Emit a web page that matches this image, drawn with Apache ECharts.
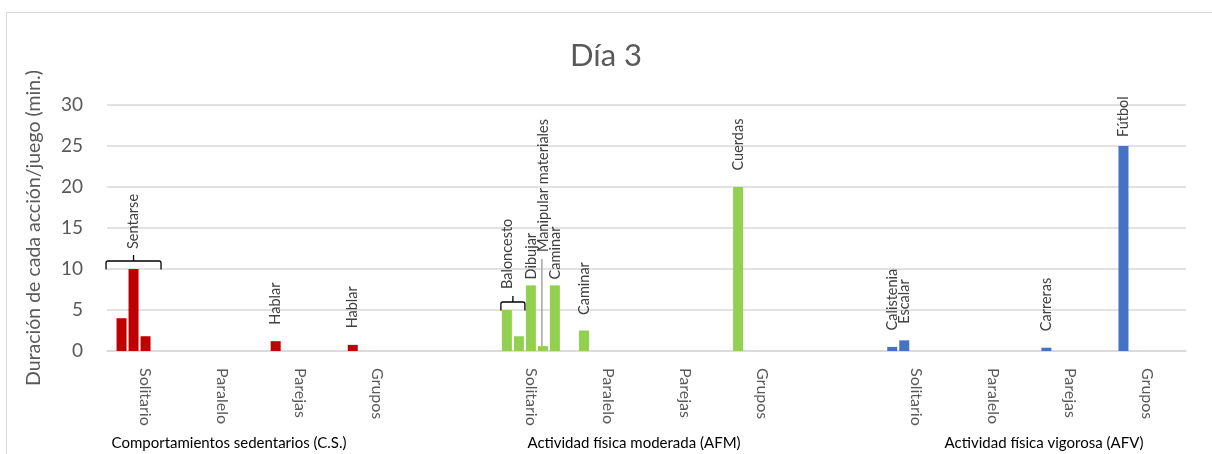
<!DOCTYPE html>
<html>
<head>
<meta charset="utf-8">
<script src="https://cdn.jsdelivr.net/npm/echarts@6/dist/echarts.min.js"></script>
<style>
  html, body { margin: 0; padding: 0; background: #ffffff; }
  #chart { width: 1212px; height: 454px; }
</style>
</head>
<body>
<div id="chart"></div>
<script>
// Sub-categories of each activity block; the empty entries separate the blocks.
const categories = [
  'Solitario', 'Paralelo', 'Parejas', 'Grupos', '',
  'Solitario', 'Paralelo', 'Parejas', 'Grupos', '',
  'Solitario', 'Paralelo', 'Parejas', 'Grupos'
];
const groupNames = [
  'Comportamientos sedentarios (C.S.)',
  'Actividad física moderada (AFM)',
  'Actividad física vigorosa (AFV)'
];

// Minutes per action/game, one array per bar slot inside a category.
const slot1 = [4, null, 1.2, 0.75, null, 5, 2.5, null, 20, null, 0.5, null, 0.4, 25];
const slot2 = [10, null, null, null, null, 1.8, null, null, null, null, 1.3, null, null, null];
const slot3 = [1.8, null, null, null, null, 8, null, null, null, null, null, null, null, null];
const slot4 = [null, null, null, null, null, 0.6, null, null, null, null, null, null, null, null];
const slot5 = [null, null, null, null, null, 8, null, null, null, null, null, null, null, null];

// Activity names written above the bars.
const names1 = ['', '', 'Hablar', 'Hablar', '', 'Baloncesto', 'Caminar', '', 'Cuerdas', '', 'Calistenia', '', 'Carreras', 'Fútbol'];
const names2 = ['Sentarse', '', '', '', '', '', '', '', '', '', 'Escalar', '', '', ''];
const names3 = ['', '', '', '', '', 'Dibujar', '', '', '', '', '', '', '', ''];
const names4 = ['', '', '', '', '', 'Manipular materiales', '', '', '', '', '', '', '', ''];
const names5 = ['', '', '', '', '', 'Caminar', '', '', '', '', '', '', '', ''];

// Braces grouping several bars under one activity name: category and slot range.
const braceCats = [0, 5];
const braceFirst = [0, 0];
const braceLast = [2, 1];
// Leader line for the label lifted far above its short bar.
const leaderCats = [5];
const leaderSlots = [3];

const slots = [slot1, slot2, slot3, slot4, slot5];
const names = [names1, names2, names3, names4, names5];

// ---- styling ----
const FONT = 'Lato, "Open Sans", sans-serif';
const BAR_W = 10;
const BAR_GAP = 2;
const blockColors = ['#C00000', '#92D050', '#4472C4'];
const bracePad = [10.5, 1];
const labelDistance = { '1-0': 20, '0-5': 21, '2-5': 6, '4-5': 6, '3-5': 94, '0-13': 9, '0-6': 15.5 };
const DEFAULT_DIST = 16.5;

function slotOffset(i) {
  const n = slots.length;
  return (i - (n - 1) / 2) * (BAR_W + BAR_GAP);
}

const barSeries = slots.map((arr, s) => ({
  type: 'bar',
  barWidth: BAR_W,
  barGap: (BAR_GAP / BAR_W * 100) + '%',
  data: arr.map((v, i) => {
    if (v === null) return '-';
    return {
      value: v,
      itemStyle: { color: blockColors[Math.floor(i / 5)] },
      label: { distance: labelDistance[s + '-' + i] !== undefined ? labelDistance[s + '-' + i] : DEFAULT_DIST }
    };
  }),
  label: {
    show: true,
    position: 'top',
    rotate: 90,
    align: 'left',
    verticalAlign: 'middle',
    fontFamily: FONT,
    fontSize: 14.5,
    color: '#404040',
    formatter: p => names[s][p.dataIndex] || ''
  },
  silent: true
}));

const braceData = braceCats.map((c, k) => {
  let top = 0;
  for (let s = braceFirst[k]; s <= braceLast[k]; s++) {
    if (slots[s][c] !== null) top = Math.max(top, slots[s][c]);
  }
  return [c, top, braceFirst[k], braceLast[k]];
});

const leaderData = leaderCats.map((c, k) => [c, slots[leaderSlots[k]][c], leaderSlots[k]]);

const braceSeries = {
  type: 'custom',
  silent: true,
  z: 5,
  encode: { x: 0, y: 1 },
  data: braceData,
  renderItem: (params, api) => {
    const p = api.coord([api.value(0), api.value(1)]);
    const pad = bracePad[params.dataIndex];
    const x1 = p[0] + slotOffset(api.value(2)) - BAR_W / 2 - pad;
    const x2 = p[0] + slotOffset(api.value(3)) + BAR_W / 2 + pad;
    const yb = p[1] + 0.5;
    const yh = p[1] - 8;
    const xm = (x1 + x2) / 2;
    const st = { stroke: '#000000', lineWidth: 1.3, fill: null };
    return {
      type: 'group',
      children: [
        { type: 'path', shape: { pathData:
          'M' + x1 + ' ' + yb + ' L' + x1 + ' ' + (yh + 2) + ' Q' + x1 + ' ' + yh + ' ' + (x1 + 2) + ' ' + yh +
          ' L' + (x2 - 2) + ' ' + yh + ' Q' + x2 + ' ' + yh + ' ' + x2 + ' ' + (yh + 2) + ' L' + x2 + ' ' + yb }, style: st },
        { type: 'line', shape: { x1: xm, y1: yh, x2: xm, y2: yh - 6 }, style: st }
      ]
    };
  }
};

const leaderSeries = {
  type: 'custom',
  silent: true,
  z: 5,
  encode: { x: 0, y: 1 },
  data: leaderData,
  renderItem: (params, api) => {
    const p = api.coord([api.value(0), api.value(1)]);
    const x = p[0] + slotOffset(api.value(2)) - 1;
    const key = api.value(2) + '-' + api.value(0);
    const d = labelDistance[key];
    return {
      type: 'line',
      shape: { x1: x, y1: p[1], x2: x, y2: p[1] - d + 7 },
      style: { stroke: '#A6A6A6', lineWidth: 1.5 }
    };
  }
};

const chart = echarts.init(document.getElementById('chart'), null, { renderer: 'canvas' });
chart.setOption({
  animation: false,
  backgroundColor: '#ffffff',
  title: {
    text: 'Día 3',
    left: 'center',
    top: 35,
    textStyle: { fontFamily: FONT, fontSize: 31, fontWeight: 'normal', color: '#595959' }
  },
  grid: { left: 107, right: 26, top: 105, bottom: 103, containLabel: false },
  xAxis: {
    type: 'category',
    data: categories,
    axisLine: { lineStyle: { color: '#D9D9D9', width: 1.5 } },
    axisTick: { show: false },
    axisLabel: {
      interval: 0,
      rotate: -90,
      margin: 17,
      fontFamily: FONT,
      fontSize: 16,
      color: '#595959'
    }
  },
  yAxis: {
    type: 'value',
    min: 0,
    max: 30,
    interval: 5,
    name: 'Duración de cada acción/juego (min.)',
    nameLocation: 'middle',
    nameRotate: 90,
    nameGap: 63,
    nameTextStyle: { fontFamily: FONT, fontSize: 19.5, color: '#595959' },
    axisLine: { show: false },
    axisTick: { show: false },
    axisLabel: { margin: 24, fontFamily: FONT, fontSize: 19, color: '#595959' },
    splitLine: { lineStyle: { color: '#D9D9D9', width: 1.5 } }
  },
  graphic: [
    {
      type: 'rect',
      shape: { x: 6.5, y: 12.5, width: 1400, height: 600 },
      style: { fill: null, stroke: '#D9D9D9', lineWidth: 1 },
      silent: true
    },
    { type: 'text', x: 229, y: 443, style: { text: groupNames[0], fontFamily: FONT, fontSize: 15, fill: '#000000', align: 'center', verticalAlign: 'middle' } },
    { type: 'text', x: 634, y: 443, style: { text: groupNames[1], fontFamily: FONT, fontSize: 15, fill: '#000000', align: 'center', verticalAlign: 'middle' } },
    { type: 'text', x: 1044, y: 443, style: { text: groupNames[2], fontFamily: FONT, fontSize: 15, fill: '#000000', align: 'center', verticalAlign: 'middle' } }
  ],
  series: barSeries.concat([braceSeries, leaderSeries])
});
</script>
</body>
</html>
